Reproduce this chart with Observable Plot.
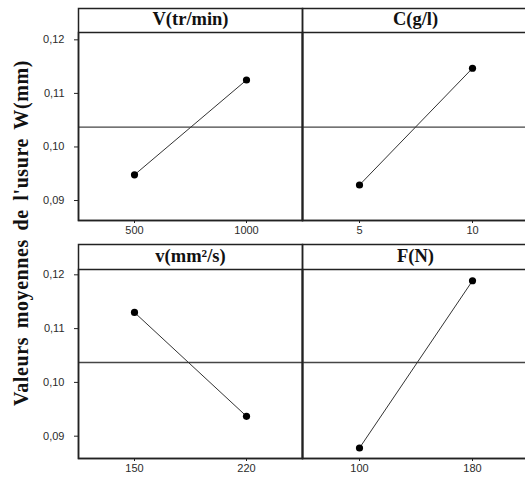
<!DOCTYPE html>
<html>
<head>
<meta charset="utf-8">
<script src="https://cdn.jsdelivr.net/npm/d3@7"></script>
<script src="https://cdn.jsdelivr.net/npm/@observablehq/plot@0.6"></script>
<style>
  html, body { margin: 0; padding: 0; background: #fff; }
  #chart { position: relative; width: 525px; height: 479px; overflow: hidden; background: #fff; }
  #chart .panel { position: absolute; }
  #chart svg { max-width: none !important; }
  #ytitle {
    position: absolute; left: 21px; top: 233px;
    transform: translate(-50%, -50%) rotate(-90deg);
    white-space: nowrap; font-family: "Liberation Serif", serif; font-weight: bold;
    font-size: 20px; color: #111; letter-spacing: 0.6px; word-spacing: 3px;
  }
</style>
</head>
<body>
<div id="chart"><div id="ytitle">Valeurs moyennes de l'usure W(mm)</div></div>
<script>
const factors = ["V(tr/min)", "C(g/l)", "v(mm²/s)", "F(N)"];
const levelLabels = [["500", "1000"], ["5", "10"], ["150", "220"], ["100", "180"]];
const meanValues = [[0.0948, 0.1125], [0.0929, 0.1147], [0.1130, 0.0937], [0.0878, 0.1189]];
const grandMean = 0.1037;
const yTicks = [0.09, 0.10, 0.11, 0.12];
const yTickLabels = ["0,09", "0,10", "0,11", "0,12"];

const layout = [
  {left: 0,   top: 0,   width: 302, height: 240, mL: 78, mR: 0, mT: 32, mB: 20, header: 24, domain: [0.08627, 0.12137], yAxis: true},
  {left: 300, top: 0,   width: 228, height: 240, mL: 2,  mR: 0, mT: 32, mB: 20, header: 24, domain: [0.08627, 0.12137], yAxis: false},
  {left: 0,   top: 240, width: 302, height: 239, mL: 78, mR: 0, mT: 29, mB: 21, header: 25, domain: [0.08585, 0.12099], yAxis: true},
  {left: 300, top: 240, width: 228, height: 239, mL: 2,  mR: 0, mT: 29, mB: 21, header: 25, domain: [0.08585, 0.12099], yAxis: false}
];

const chart = document.getElementById("chart");

factors.forEach((name, i) => {
  const L = layout[i];
  const data = levelLabels[i].map((lv, j) => ({level: lv, value: meanValues[i][j]}));
  const marks = [
    Plot.ruleY([grandMean], {stroke: "#454545", strokeWidth: 1.3}),
    Plot.line(data, {x: "level", y: "value", stroke: "#333", strokeWidth: 1}),
    Plot.dot(data, {x: "level", y: "value", r: 3.6, fill: "#000", stroke: "none"}),
    Plot.axisX({tickSize: 3, tickPadding: 3, label: null, fontSize: 11, stroke: "#222"}),
    Plot.frame({stroke: "#222", strokeWidth: 1.5}),
    Plot.frame({stroke: "#222", strokeWidth: 1.5, insetTop: -L.header}),
    Plot.text([name], {frameAnchor: "top", text: d => d, dy: -L.header / 2 - 1,
      fontFamily: "Liberation Serif", fontWeight: "bold", fontSize: 18.5, fill: "#111",
      textAnchor: "middle", lineAnchor: "middle"})
  ];
  if (L.yAxis) {
    marks.push(Plot.axisY(yTicks, {tickSize: 4, tickPadding: 10, label: null,
      tickFormat: (d) => yTickLabels[yTicks.indexOf(d)], fontSize: 11, stroke: "#222"}));
  }
  const svg = Plot.plot({
    width: L.width, height: L.height,
    marginLeft: L.mL, marginRight: L.mR, marginTop: L.mT, marginBottom: L.mB,
    style: {fontFamily: "Liberation Sans, Arial, sans-serif", color: "#2b2b2b", background: "transparent", overflow: "visible", maxWidth: "none"},
    x: {type: "point", domain: levelLabels[i], padding: 0.5, axis: null},
    y: {domain: L.domain, axis: null},
    marks
  });
  const div = document.createElement("div");
  div.className = "panel";
  div.style.left = L.left + "px";
  div.style.top = L.top + "px";
  div.style.width = L.width + "px";
  div.appendChild(svg);
  chart.appendChild(div);
});
</script>
</body>
</html>
